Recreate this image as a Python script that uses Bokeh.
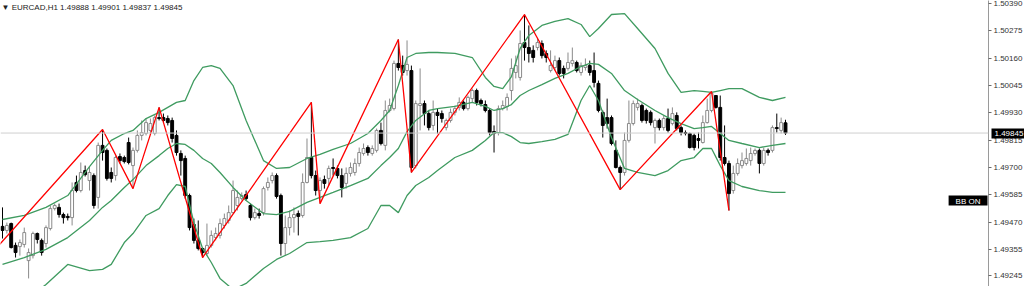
from bokeh.plotting import figure
from bokeh.models import (Range1d, FixedTicker, PrintfTickFormatter, Span, Label,
                          ColumnDataSource, LinearAxis)
from bokeh.embed import file_html
from bokeh.resources import INLINE

symbol = "EURCAD,H1"

opens = [1.49452, 1.49435, 1.49464, 1.49372, 1.49367, 1.49376, 1.49308, 1.49329, 1.49422, 1.49393,
         1.49380, 1.49443, 1.49527, 1.49532, 1.49502, 1.49494, 1.49489, 1.49637, 1.49603, 1.49687,
         1.49645, 1.49666, 1.49574, 1.49793, 1.49772, 1.49679, 1.49666, 1.49746, 1.49742, 1.49805,
         1.49708, 1.49772, 1.49835, 1.49843, 1.49856, 1.49843, 1.49910, 1.49910, 1.49906, 1.49898,
         1.49835, 1.49759, 1.49738, 1.49582, 1.49460, 1.49393, 1.49359, 1.49338, 1.49372, 1.49405,
         1.49414, 1.49456, 1.49477, 1.49510, 1.49540, 1.49569, 1.49586, 1.49540, 1.49489, 1.49506,
         1.49510, 1.49616, 1.49645, 1.49666, 1.49582, 1.49380, 1.49447, 1.49489, 1.49506, 1.49498,
         1.49637, 1.49742, 1.49666, 1.49603, 1.49649, 1.49654, 1.49700, 1.49696, 1.49666, 1.49633,
         1.49675, 1.49679, 1.49717, 1.49759, 1.49784, 1.49759, 1.49772, 1.49856, 1.49793, 1.49940,
         1.49948, 1.50138, 1.50129, 1.50108, 1.50108, 1.49708, 1.49961, 1.49969, 1.49927, 1.49877,
         1.49932, 1.49927, 1.49868, 1.49898, 1.49932, 1.49953, 1.49974, 1.49948, 1.49990, 1.50024,
         1.49982, 1.49965, 1.49940, 1.49851, 1.49847, 1.49948, 1.49957, 1.50024, 1.50100, 1.50079,
         1.50226, 1.50205, 1.50193, 1.50205, 1.50222, 1.50180, 1.50108, 1.50121, 1.50150, 1.50117,
         1.50117, 1.50138, 1.50142, 1.50100, 1.50121, 1.50129, 1.50108, 1.50054, 1.49932, 1.49910,
         1.49910, 1.49772, 1.49700, 1.49679, 1.49814, 1.49885, 1.49953, 1.49961, 1.49940, 1.49932,
         1.49868, 1.49898, 1.49868, 1.49906, 1.49885, 1.49919, 1.49868, 1.49847, 1.49843, 1.49835,
         1.49822, 1.49805, 1.49889, 1.49940, 1.50003, 1.49953, 1.49742, 1.49717, 1.49603, 1.49675,
         1.49708, 1.49717, 1.49729, 1.49759, 1.49772, 1.49717, 1.49772, 1.49772, 1.49868, 1.49856,
         1.49888]

highs = [1.49532, 1.49468, 1.49468, 1.49384, 1.49397, 1.49447, 1.49359, 1.49430, 1.49426, 1.49401,
         1.49456, 1.49540, 1.49548, 1.49548, 1.49510, 1.49506, 1.49637, 1.49666, 1.49721, 1.49708,
         1.49704, 1.49675, 1.49805, 1.49860, 1.49780, 1.49700, 1.49750, 1.49759, 1.49750, 1.49826,
         1.49784, 1.49856, 1.49898, 1.49906, 1.49906, 1.49919, 1.49953, 1.49927, 1.49919, 1.49910,
         1.49856, 1.49772, 1.49750, 1.49590, 1.49485, 1.49477, 1.49363, 1.49464, 1.49435, 1.49447,
         1.49485, 1.49506, 1.49540, 1.49645, 1.49603, 1.49595, 1.49603, 1.49548, 1.49527, 1.49527,
         1.49620, 1.49658, 1.49679, 1.49675, 1.49590, 1.49498, 1.49519, 1.49532, 1.49519, 1.49675,
         1.49822, 1.49974, 1.49687, 1.49658, 1.49666, 1.49708, 1.49738, 1.49708, 1.49696, 1.49700,
         1.49721, 1.49738, 1.49784, 1.49801, 1.49793, 1.49793, 1.49864, 1.49889, 1.49982, 1.49990,
         1.50150, 1.50239, 1.50171, 1.50235, 1.50129, 1.49982, 1.50117, 1.49982, 1.49940, 1.49982,
         1.49948, 1.49940, 1.49906, 1.49948, 1.49961, 1.49995, 1.49982, 1.50003, 1.50032, 1.50032,
         1.49990, 1.49982, 1.49948, 1.49877, 1.49961, 1.49982, 1.50012, 1.50159, 1.50171, 1.50277,
         1.50344, 1.50298, 1.50214, 1.50243, 1.50235, 1.50193, 1.50193, 1.50171, 1.50163, 1.50129,
         1.50184, 1.50205, 1.50150, 1.50142, 1.50159, 1.50150, 1.50184, 1.50066, 1.49940, 1.49990,
         1.49919, 1.49814, 1.49708, 1.49847, 1.49982, 1.49982, 1.49990, 1.49969, 1.49948, 1.49940,
         1.49906, 1.49906, 1.49919, 1.49948, 1.49953, 1.49932, 1.49877, 1.49856, 1.49847, 1.49843,
         1.49847, 1.49919, 1.49990, 1.50020, 1.50003, 1.50003, 1.49877, 1.49729, 1.49708, 1.49738,
         1.49763, 1.49780, 1.49784, 1.49780, 1.49780, 1.49784, 1.49780, 1.49877, 1.49927, 1.49910,
         1.49901]

lows = [1.49401, 1.49422, 1.49359, 1.49321, 1.49329, 1.49363, 1.49233, 1.49317, 1.49380, 1.49329,
        1.49363, 1.49435, 1.49519, 1.49489, 1.49464, 1.49477, 1.49456, 1.49595, 1.49595, 1.49662,
        1.49603, 1.49527, 1.49527, 1.49729, 1.49645, 1.49637, 1.49645, 1.49717, 1.49717, 1.49713,
        1.49611, 1.49763, 1.49814, 1.49835, 1.49839, 1.49835, 1.49898, 1.49889, 1.49877, 1.49805,
        1.49750, 1.49666, 1.49569, 1.49435, 1.49380, 1.49351, 1.49321, 1.49329, 1.49363, 1.49393,
        1.49401, 1.49443, 1.49464, 1.49506, 1.49519, 1.49561, 1.49561, 1.49477, 1.49481, 1.49485,
        1.49498, 1.49603, 1.49633, 1.49569, 1.49329, 1.49329, 1.49414, 1.49426, 1.49414, 1.49489,
        1.49633, 1.49654, 1.49582, 1.49548, 1.49611, 1.49624, 1.49666, 1.49654, 1.49574, 1.49611,
        1.49662, 1.49666, 1.49704, 1.49750, 1.49750, 1.49750, 1.49763, 1.49793, 1.49772, 1.49932,
        1.49940, 1.50108, 1.50087, 1.50087, 1.49679, 1.49696, 1.49856, 1.49877, 1.49856, 1.49856,
        1.49843, 1.49889, 1.49856, 1.49889, 1.49919, 1.49940, 1.49940, 1.49940, 1.49974, 1.49961,
        1.49957, 1.49932, 1.49835, 1.49763, 1.49835, 1.49940, 1.49940, 1.49982, 1.50075, 1.50066,
        1.50150, 1.50142, 1.50142, 1.50193, 1.50159, 1.50142, 1.50100, 1.50108, 1.50087, 1.50075,
        1.50108, 1.50125, 1.50100, 1.50087, 1.50108, 1.50087, 1.50037, 1.49932, 1.49826, 1.49864,
        1.49793, 1.49696, 1.49607, 1.49666, 1.49805, 1.49877, 1.49940, 1.49889, 1.49885, 1.49877,
        1.49801, 1.49856, 1.49856, 1.49847, 1.49877, 1.49856, 1.49835, 1.49835, 1.49780, 1.49772,
        1.49780, 1.49801, 1.49885, 1.49932, 1.49948, 1.49729, 1.49708, 1.49519, 1.49590, 1.49666,
        1.49696, 1.49708, 1.49708, 1.49750, 1.49675, 1.49708, 1.49750, 1.49763, 1.49847, 1.49843,
        1.49837]

closes = [1.49435, 1.49456, 1.49363, 1.49342, 1.49384, 1.49426, 1.49342, 1.49422, 1.49397, 1.49342,
          1.49447, 1.49527, 1.49540, 1.49502, 1.49489, 1.49489, 1.49603, 1.49603, 1.49679, 1.49670,
          1.49679, 1.49540, 1.49793, 1.49763, 1.49654, 1.49654, 1.49742, 1.49729, 1.49725, 1.49721,
          1.49772, 1.49835, 1.49847, 1.49889, 1.49885, 1.49910, 1.49906, 1.49898, 1.49889, 1.49822,
          1.49763, 1.49729, 1.49582, 1.49447, 1.49393, 1.49359, 1.49342, 1.49372, 1.49414, 1.49422,
          1.49464, 1.49485, 1.49510, 1.49603, 1.49574, 1.49582, 1.49569, 1.49489, 1.49510, 1.49498,
          1.49611, 1.49637, 1.49666, 1.49578, 1.49380, 1.49447, 1.49489, 1.49502, 1.49494, 1.49637,
          1.49742, 1.49666, 1.49603, 1.49645, 1.49633, 1.49696, 1.49696, 1.49666, 1.49616, 1.49675,
          1.49700, 1.49717, 1.49763, 1.49780, 1.49763, 1.49780, 1.49856, 1.49801, 1.49940, 1.49961,
          1.50138, 1.50121, 1.50100, 1.50134, 1.49700, 1.49969, 1.49969, 1.49927, 1.49868, 1.49932,
          1.49919, 1.49906, 1.49898, 1.49932, 1.49948, 1.49974, 1.49948, 1.49995, 1.50024, 1.49974,
          1.49969, 1.49940, 1.49847, 1.49843, 1.49948, 1.49961, 1.49995, 1.50117, 1.50129, 1.50222,
          1.50205, 1.50180, 1.50163, 1.50226, 1.50171, 1.50163, 1.50129, 1.50150, 1.50096, 1.50096,
          1.50142, 1.50150, 1.50108, 1.50129, 1.50129, 1.50100, 1.50058, 1.49940, 1.49877, 1.49885,
          1.49801, 1.49700, 1.49679, 1.49814, 1.49885, 1.49969, 1.49969, 1.49898, 1.49898, 1.49889,
          1.49898, 1.49868, 1.49906, 1.49856, 1.49927, 1.49864, 1.49847, 1.49843, 1.49784, 1.49784,
          1.49814, 1.49889, 1.49940, 1.50012, 1.49953, 1.49742, 1.49717, 1.49590, 1.49675, 1.49717,
          1.49729, 1.49738, 1.49759, 1.49772, 1.49717, 1.49772, 1.49763, 1.49868, 1.49864, 1.49889,
          1.49845]

band_idx = [0, 5, 10, 15, 20, 23, 25, 28, 30, 33, 36, 38, 40, 42, 44, 46, 48, 50, 53, 56, 60, 63, 66,
            70, 73, 76, 80, 84, 87, 89, 91, 93, 95, 98, 100, 104, 108, 111, 113, 115, 117, 119, 121,
            124, 127, 130, 133, 135, 137, 140, 143, 146, 150, 153, 156, 159, 161, 163, 165, 167, 170,
            174, 177, 180]

bb_upper = [1.49481, 1.49498, 1.49532, 1.49582, 1.49704, 1.49772, 1.49814, 1.49843, 1.49856, 1.49906,
            1.49932, 1.49953, 1.49974, 1.49982, 1.50066, 1.50121, 1.50129, 1.50117, 1.50045, 1.49898,
            1.49729, 1.49696, 1.49700, 1.49738, 1.49755, 1.49776, 1.49801, 1.49843, 1.49898, 1.49940,
            1.50045, 1.50163, 1.50180, 1.50184, 1.50184, 1.50180, 1.50163, 1.50079, 1.50041, 1.50032,
            1.50083, 1.50201, 1.50256, 1.50298, 1.50315, 1.50327, 1.50302, 1.50251, 1.50285, 1.50344,
            1.50348, 1.50285, 1.50201, 1.50096, 1.50016, 1.50024, 1.50020, 1.50016, 1.50024, 1.50032,
            1.50032, 1.49995, 1.49982, 1.49995]

bb_middle = [1.49292, 1.49321, 1.49355, 1.49405, 1.49477, 1.49532, 1.49561, 1.49616, 1.49649, 1.49708,
             1.49750, 1.49780, 1.49801, 1.49797, 1.49772, 1.49738, 1.49717, 1.49679, 1.49616, 1.49561,
             1.49506, 1.49502, 1.49515, 1.49553, 1.49574, 1.49595, 1.49624, 1.49654, 1.49708, 1.49742,
             1.49780, 1.49851, 1.49898, 1.49940, 1.49948, 1.49957, 1.49974, 1.49957, 1.49940, 1.49948,
             1.49965, 1.50003, 1.50024, 1.50049, 1.50075, 1.50096, 1.50125, 1.50138, 1.50134, 1.50096,
             1.50024, 1.49986, 1.49940, 1.49910, 1.49885, 1.49864, 1.49868, 1.49873, 1.49843, 1.49814,
             1.49801, 1.49784, 1.49793, 1.49801]

bb_lower = [1.49098, 1.49140, 1.49207, 1.49292, 1.49266, 1.49271, 1.49292, 1.49384, 1.49422, 1.49498,
            1.49527, 1.49582, 1.49628, 1.49620, 1.49468, 1.49359, 1.49300, 1.49233, 1.49186, 1.49212,
            1.49275, 1.49313, 1.49338, 1.49384, 1.49388, 1.49393, 1.49405, 1.49443, 1.49540, 1.49540,
            1.49510, 1.49582, 1.49624, 1.49658, 1.49687, 1.49742, 1.49772, 1.49814, 1.49847, 1.49847,
            1.49830, 1.49805, 1.49801, 1.49809, 1.49818, 1.49839, 1.49982, 1.50045, 1.49982, 1.49826,
            1.49696, 1.49679, 1.49666, 1.49687, 1.49729, 1.49742, 1.49780, 1.49780, 1.49708, 1.49645,
            1.49620, 1.49603, 1.49595, 1.49595]

zz_idx = [-3, 23, 30, 36, 46, 71, 73, 91, 94, 120, 142, 163, 167]
zz_price = [1.49328, 1.49860, 1.49611, 1.49953, 1.49321, 1.49974, 1.49548, 1.50239, 1.49679, 1.50344,
            1.49607, 1.50020, 1.49519]

y_ticks = [1.50390, 1.50275, 1.50160, 1.50045, 1.49930, 1.49815, 1.49700, 1.49585, 1.49470, 1.49355, 1.49245]

idx = list(range(len(opens)))
bull = [c >= o for o, c in zip(opens, closes)]
src = ColumnDataSource(dict(
    x=idx, h=highs, l=lows,
    top=[max(o, c) for o, c in zip(opens, closes)],
    bottom=[min(o, c) for o, c in zip(opens, closes)],
    fill=["#ffffff" if b else "#000000" for b in bull],
    line=["#8a8a8a" if b else "#000000" for b in bull],
))

x_left, x_right = -0.46, 226.67
p = figure(frame_width=988, frame_height=286,
           x_range=Range1d(x_left, x_right), y_range=Range1d(1.49199, 1.50403),
           output_backend="svg", toolbar_location=None,
           x_axis_location=None, y_axis_location=None,
           min_border=0, min_border_left=0, min_border_right=0,
           min_border_top=0, min_border_bottom=0,
           background_fill_color="white", border_fill_color="white",
           outline_line_color=None)
p.grid.visible = False

last_price = closes[-1]

# price scale
yax = LinearAxis(ticker=FixedTicker(ticks=y_ticks), formatter=PrintfTickFormatter(format="%.5f"))
yax.axis_line_color = "#9a9a9a"
yax.major_tick_line_color = "#6a6a6a"
yax.major_tick_out = 3
yax.major_tick_in = 0
yax.minor_tick_line_color = None
yax.major_label_text_font = "Liberation Sans"
yax.major_label_text_font_size = "8px"
yax.major_label_text_color = "#333333"
yax.major_label_standoff = 2
p.add_layout(yax, "right")

# current-price tag: a second scale whose single tick is drawn back over the first one
tag = LinearAxis(ticker=FixedTicker(ticks=[last_price]), formatter=PrintfTickFormatter(format="%.5f"))
tag.axis_line_color = None
tag.minor_tick_line_color = None
tag.major_tick_line_color = "black"
tag.major_tick_line_width = 10
tag.major_tick_line_cap = "butt"
tag.major_tick_out = 0
tag.major_tick_in = 34
tag.major_label_text_font = "Liberation Sans"
tag.major_label_text_font_size = "8px"
tag.major_label_text_color = "white"
tag.major_label_standoff = -31
p.add_layout(tag, "right")

p.add_layout(Span(location=last_price, dimension="width", line_color="#cfcfcf", line_width=1))

p.segment(x0="x", y0="l", x1="x", y1="h", line_color="line", line_width=1, source=src)
p.vbar(x="x", width=0.66, top="top", bottom="bottom", fill_color="fill",
       line_color="line", line_width=1, source=src)

band_color = "#3f9b60"
p.line(band_idx, bb_upper, line_color=band_color, line_width=1.3)
p.line(band_idx, bb_middle, line_color=band_color, line_width=1.3)
p.line(band_idx, bb_lower, line_color=band_color, line_width=1.3)

p.line(zz_idx, zz_price, line_color="#ff0000", line_width=1.3)

title = f"\u25bc {symbol}  {opens[-1]:.5f} {highs[-1]:.5f} {lows[-1]:.5f} {closes[-1]:.5f}"
p.add_layout(Label(x=x_left, y=1.50403, text=title, x_offset=1, y_offset=-2,
                   text_baseline="top", text_align="left", text_font="Liberation Sans",
                   text_font_size="8px", text_color="#222222"))

p.add_layout(Label(x=x_right, y=1.49561, text="BB ON", x_offset=-1,
                   text_baseline="middle", text_align="right", text_font="Liberation Sans",
                   text_font_size="8px", text_color="white", background_fill_color="black",
                   padding=dict(left=7, right=7, top=1, bottom=0)))

open("out.html", "w").write(file_html(p, INLINE))
